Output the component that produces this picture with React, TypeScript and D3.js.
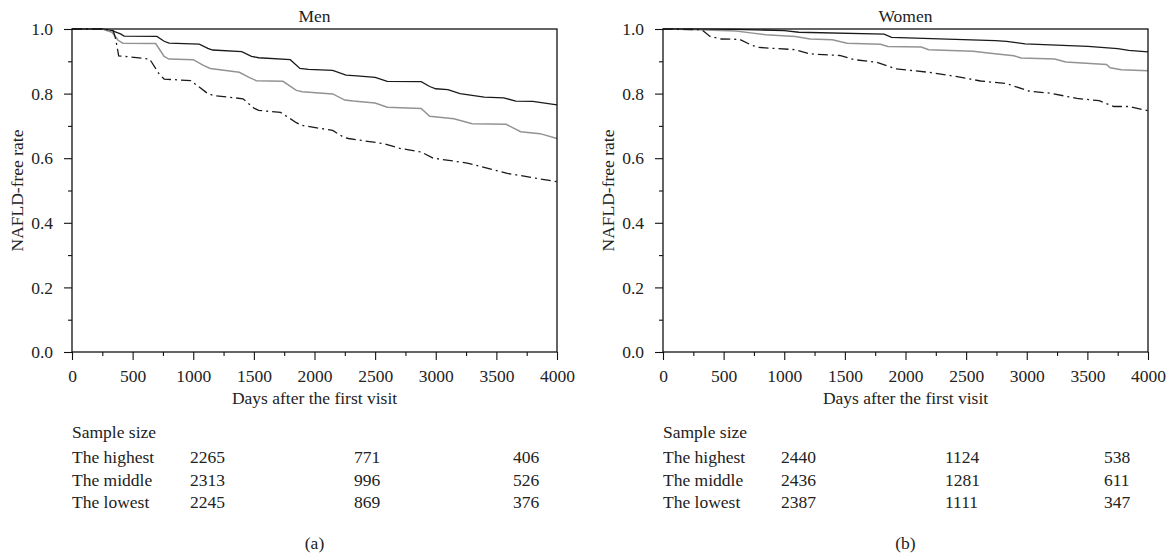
import React, { useEffect, useRef } from "react";
import * as d3 from "d3";

type Pt = [number, number];

const groups = ["The highest", "The middle", "The lowest"];
const xTicks = [0, 500, 1000, 1500, 2000, 2500, 3000, 3500, 4000];
const xMinor = [250, 750, 1250, 1750, 2250, 2750, 3250, 3750];
const yTicks = [0, 0.2, 0.4, 0.6, 0.8, 1.0];
const yMinor = [0.1, 0.3, 0.5, 0.7, 0.9];

// Men
const menHighest: Pt[] = [
  [0, 1.0], [250, 1.0], [330, 0.995], [400, 0.985], [430, 0.978], [700, 0.977], [760, 0.962],
  [800, 0.956], [1050, 0.953], [1120, 0.94], [1160, 0.935], [1400, 0.93], [1480, 0.915],
  [1540, 0.911], [1800, 0.905], [1880, 0.878], [1950, 0.875], [2150, 0.872], [2260, 0.857],
  [2350, 0.855], [2500, 0.85], [2600, 0.838], [2880, 0.837], [2950, 0.822], [3000, 0.815],
  [3100, 0.812], [3200, 0.8], [3400, 0.789], [3560, 0.787], [3660, 0.777], [3800, 0.776],
  [4000, 0.765],
];
const menMiddle: Pt[] = [
  [0, 1.0], [250, 1.0], [330, 0.99], [380, 0.965], [420, 0.956], [690, 0.955], [760, 0.915],
  [800, 0.907], [1000, 0.905], [1080, 0.888], [1140, 0.878], [1380, 0.866], [1460, 0.85],
  [1520, 0.84], [1740, 0.838], [1850, 0.81], [1900, 0.806], [2150, 0.799], [2250, 0.78],
  [2320, 0.777], [2500, 0.771], [2600, 0.758], [2880, 0.754], [2950, 0.73], [3150, 0.722],
  [3300, 0.707], [3580, 0.705], [3700, 0.682], [3860, 0.676], [4000, 0.661],
];
const menLowest: Pt[] = [
  [0, 1.0], [250, 1.0], [340, 0.995], [360, 0.97], [385, 0.917], [640, 0.907], [720, 0.86],
  [760, 0.845], [980, 0.84], [1120, 0.8], [1170, 0.794], [1410, 0.784], [1500, 0.755],
  [1540, 0.748], [1720, 0.742], [1850, 0.71], [1890, 0.702], [2150, 0.686], [2240, 0.665],
  [2280, 0.661], [2570, 0.645], [2710, 0.63], [2880, 0.619], [2980, 0.6], [3260, 0.585],
  [3590, 0.553], [4000, 0.527],
];

// Women
const womenHighest: Pt[] = [
  [0, 1.0], [600, 0.999], [1000, 0.995], [1121, 0.99], [1824, 0.984], [1885, 0.974],
  [2741, 0.964], [2833, 0.962], [2986, 0.954], [3505, 0.946], [3750, 0.939], [3841, 0.934],
  [4000, 0.929],
];
const womenMiddle: Pt[] = [
  [0, 1.0], [300, 0.998], [602, 0.994], [724, 0.988], [846, 0.982], [1091, 0.977], [1213, 0.969],
  [1396, 0.967], [1519, 0.956], [1794, 0.953], [1855, 0.946], [2130, 0.944], [2191, 0.936],
  [2558, 0.931], [2680, 0.926], [2894, 0.917], [2955, 0.91], [3230, 0.907], [3322, 0.898],
  [3658, 0.89], [3688, 0.88], [3780, 0.874], [4000, 0.871],
];
const womenLowest: Pt[] = [
  [0, 1.0], [320, 0.998], [388, 0.977], [480, 0.969], [633, 0.968], [724, 0.951], [785, 0.943],
  [1091, 0.936], [1213, 0.923], [1457, 0.918], [1580, 0.905], [1763, 0.897], [1916, 0.877],
  [2191, 0.866], [2436, 0.852], [2619, 0.839], [2833, 0.831], [3016, 0.808], [3200, 0.801],
  [3414, 0.785], [3597, 0.778], [3719, 0.76], [3841, 0.76], [4000, 0.747],
];

// sample sizes, rows = groups
const menSizes = [
  [2265, 771, 406],
  [2313, 996, 526],
  [2245, 869, 376],
];
const womenSizes = [
  [2440, 1124, 538],
  [2436, 1281, 611],
  [2387, 1111, 347],
];

const FONT = "'Liberation Serif', 'Times New Roman', serif";
const FS = 17.5
const lineStyles = [
  { stroke: "#1a1a1a", width: 1.3, dash: "" },
  { stroke: "#939393", width: 1.5, dash: "" },
  { stroke: "#1a1a1a", width: 1.3, dash: "10,4,2,4" },
];

function drawPanel(
  root: d3.Selection<SVGSVGElement, unknown, null, undefined>,
  left: number,
  title: string,
  series: Pt[][],
  sizes: number[][],
  letter: string
) {
  const top = 29
  const width = 485
  const height = 323

  const g = root.append("g").attr("transform", "translate(" + left + "," + top + ")")

  const x = d3.scaleLinear().domain([0, 4000]).range([0, width])
  const y = d3.scaleLinear().domain([0, 1]).range([height, 0])

  // minor ticks
  g.append("g")
    .call(d3.axisLeft(y).tickValues(yMinor).tickSize(4).tickFormat(() => ""))
    .call(s => s.select(".domain").remove())
  g.append("g")
    .attr("transform", "translate(0," + height + ")")
    .call(d3.axisBottom(x).tickValues(xMinor).tickSize(4).tickFormat(() => ""))
    .call(s => s.select(".domain").remove())

  const yAxis = g.append("g")
    .call(d3.axisLeft(y).tickValues(yTicks).tickSize(8).tickPadding(11).tickFormat(d3.format(".1f")))
  yAxis.select(".domain").remove()

  const xAxis = g.append("g")
    .attr("transform", "translate(0," + height + ")")
    .call(d3.axisBottom(x).tickValues(xTicks).tickSize(8).tickPadding(10).tickFormat(d3.format("d")))
  xAxis.select(".domain").remove()

  g.selectAll(".tick line").attr("stroke", "#111").attr("stroke-width", 1.1)
  g.selectAll(".tick text")
    .attr("font-family", FONT)
    .attr("font-size", FS)
    .attr("fill", "#222")

  // curves
  const line = d3.line<Pt>()
    .x(d => x(d[0]))
    .y(d => y(d[1]))

  series.forEach((data, i) => {
    const st = lineStyles[i]
    g.append("path")
      .datum(data)
      .attr("d", line)
      .attr("fill", "none")
      .attr("stroke", st.stroke)
      .attr("stroke-width", st.width)
      .attr("stroke-dasharray", st.dash || null)
  })

  // frame
  g.append("rect")
    .attr("x", 0)
    .attr("y", 0)
    .attr("width", width)
    .attr("height", height)
    .attr("fill", "none")
    .attr("stroke", "#111")
    .attr("stroke-width", 1.3)

  const txt = (tx: number, ty: number, s: string, anchor = "start") =>
    g.append("text")
      .attr("x", tx)
      .attr("y", ty)
      .attr("text-anchor", anchor)
      .attr("font-family", FONT)
      .attr("font-size", FS)
      .attr("fill", "#222")
      .text(s)

  txt(width / 2, -7, title, "middle")
  txt(width / 2, height + 52, "Days after the first visit", "middle")

  g.append("text")
    .attr("transform", "translate(-49," + height / 2 + ") rotate(-90)")
    .attr("text-anchor", "middle")
    .attr("font-family", FONT)
    .attr("font-size", FS)
    .attr("fill", "#222")
    .text("NAFLD-free rate")

  // sample size table
  const cols = [118, 282, 441]
  txt(0, 438 - top, "Sample size")
  groups.forEach((name, r) => {
    const by = 463 - top + r * 22.5
    txt(0, by, name)
    sizes[r].forEach((n, c) => txt(cols[c], by, String(n)))
  })

  txt(width / 2, 549 - top, letter, "middle")
}

export default function App() {
  const ref = useRef<SVGSVGElement>(null)

  useEffect(() => {
    const svg = d3.select(ref.current as SVGSVGElement)
    svg.selectAll("*").remove()
    svg.append("rect").attr("width", 1169).attr("height", 558).attr("fill", "#fff")
    drawPanel(svg, 72, "Men", [menHighest, menMiddle, menLowest], menSizes, "(a)")
    drawPanel(svg, 663, "Women", [womenHighest, womenMiddle, womenLowest], womenSizes, "(b)")
  }, [])

  return (
    <div style={{ position: "absolute", left: 0, top: 0 }}>
      <svg ref={ref} width={1169} height={558} style={{ display: "block" }} />
    </div>
  )
}
